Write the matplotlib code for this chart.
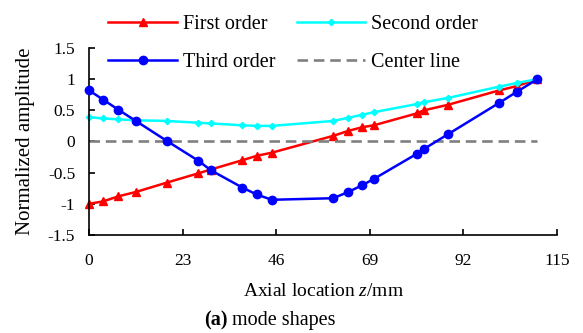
import numpy as np
import matplotlib
matplotlib.use("Agg")
from matplotlib import pyplot as plt

plt.rcParams['font.family'] = ['Liberation Serif', 'DejaVu Serif']
plt.rcParams['mathtext.fontset'] = 'custom'
plt.rcParams['mathtext.rm'] = 'Liberation Serif'
plt.rcParams['mathtext.it'] = 'Liberation Serif:italic'

# axial measurement positions (mm)
z = [0, 3.5, 7.2, 11.5, 19.1, 26.9, 29.9, 37.7, 41.2, 44.9,
     60.0, 63.7, 67.2, 70.0, 80.5, 82.3, 88.3, 100.8, 105.2, 110.2]

first_order = [-1.0, -0.96, -0.88, -0.81, -0.66, -0.51, -0.45, -0.30, -0.23, -0.18,
               0.09, 0.17, 0.23, 0.26, 0.45, 0.50, 0.59, 0.82, 0.89, 1.0]
second_order = [0.39, 0.37, 0.355, 0.34, 0.33, 0.30, 0.29, 0.26, 0.25, 0.25,
                0.33, 0.38, 0.43, 0.47, 0.60, 0.63, 0.70, 0.88, 0.94, 1.0]
third_order = [0.82, 0.67, 0.51, 0.33, 0.01, -0.31, -0.46, -0.74, -0.85, -0.935,
               -0.91, -0.81, -0.70, -0.60, -0.20, -0.12, 0.12, 0.62, 0.80, 1.0]

center_z = [0, 110.2]
center_val = [0, 0]

x_ticks = [0, 23, 46, 69, 92, 115]
y_ticks = [-1.5, -1, -0.5, 0, 0.5, 1, 1.5]
y_ticklabels = ['-1.5', '-1', '-0.5', '0', '0.5', '1', '1.5']

fig = plt.figure(figsize=(5.83, 3.33), dpi=100)
ax = fig.add_axes([0.1527, 0.2943, 0.8027, 0.5616])

l1, = ax.plot(z, first_order, color='#ff0000', lw=1.8, marker='^', ms=6, clip_on=False)
l2, = ax.plot(z, second_order, color='#00ffff', lw=1.8, marker='D', ms=3.2, clip_on=False)
l3, = ax.plot(z, third_order, color='#0000ff', lw=1.8, marker='o', ms=6, clip_on=False, zorder=3)
l4, = ax.plot(center_z, center_val, color='#808080', lw=1.9, dashes=(4, 2.2))

ax.set_xlim(0, 115)
ax.set_ylim(-1.5, 1.5)
ax.set_xticks(x_ticks)
ax.set_yticks(y_ticks)
ax.set_yticklabels(y_ticklabels)
ax.tick_params(direction='in', length=4, width=1.2, labelsize=12.5, colors='black')
ax.tick_params(axis='x', pad=13)
ax.tick_params(axis='y', pad=10)
for s in ['top', 'right']:
    ax.spines[s].set_visible(False)
for s in ['left', 'bottom']:
    ax.spines[s].set_linewidth(1.2)

ax.set_xlabel('Axial location $\\it{z}$/mm', fontsize=14, labelpad=10)
ax.set_ylabel('Normalized amplitude', fontsize=15)
ax.yaxis.set_label_coords(-0.115, 0.5)

fig.legend([l1, l3, l2, l4], ['First order', 'Third order', 'Second order', 'Center line'],
           ncol=2, loc='upper left', bbox_to_anchor=(0.155, 1.01), frameon=False,
           fontsize=14.5, handlelength=3.4, handletextpad=0.3, columnspacing=1.05,
           labelspacing=0.95)

# caption with bold panel letter
fig.text(0.39, 0.008, '(a)', fontsize=14.5, fontweight='bold', ha='right', va='bottom')
fig.text(0.39, 0.008, ' mode shapes', fontsize=14.5, ha='left', va='bottom')

fig.savefig('out.png', dpi=100)
